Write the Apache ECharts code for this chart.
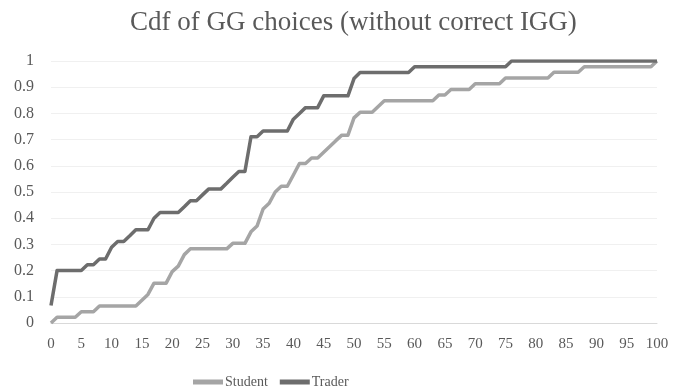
<!DOCTYPE html>
<html>
<head>
<meta charset="utf-8">
<script src="https://cdn.jsdelivr.net/npm/echarts@6/dist/echarts.min.js"></script>
<style>
  html, body { margin: 0; padding: 0; background: #ffffff; }
  #chart { width: 673px; height: 391px; }
</style>
</head>
<body>
<div id="chart"></div>
<script>
// Guess values 0..100 on the horizontal axis
const guesses = Array.from({ length: 101 }, (_, i) => String(i));

// Cumulative share of choices at or below each guess
const student = [
  0,
  0.022, 0.022, 0.022, 0.022,
  0.043, 0.043, 0.043,
  0.065, 0.065, 0.065, 0.065, 0.065, 0.065, 0.065,
  0.087, 0.109,
  0.152, 0.152, 0.152,
  0.196, 0.217, 0.261,
  0.283, 0.283, 0.283, 0.283, 0.283, 0.283, 0.283,
  0.304, 0.304, 0.304,
  0.348, 0.370, 0.435, 0.457, 0.500,
  0.522, 0.522,
  0.565,
  0.609, 0.609,
  0.630, 0.630,
  0.652, 0.674, 0.696,
  0.717, 0.717,
  0.783,
  0.804, 0.804, 0.804,
  0.826,
  0.848, 0.848, 0.848, 0.848, 0.848, 0.848, 0.848, 0.848, 0.848,
  0.870, 0.870,
  0.891, 0.891, 0.891, 0.891,
  0.913, 0.913, 0.913, 0.913, 0.913,
  0.935, 0.935, 0.935, 0.935, 0.935, 0.935, 0.935, 0.935,
  0.957, 0.957, 0.957, 0.957, 0.957,
  0.978, 0.978, 0.978, 0.978, 0.978, 0.978, 0.978, 0.978, 0.978, 0.978, 0.978, 0.978,
  1
];

const trader = [
  0.067,
  0.2, 0.2, 0.2, 0.2, 0.2,
  0.222, 0.222,
  0.244, 0.244,
  0.289,
  0.311, 0.311,
  0.333,
  0.356, 0.356, 0.356,
  0.4,
  0.422, 0.422, 0.422, 0.422,
  0.444,
  0.467, 0.467,
  0.489,
  0.511, 0.511, 0.511,
  0.533, 0.556,
  0.578, 0.578,
  0.711, 0.711,
  0.733, 0.733, 0.733, 0.733, 0.733,
  0.778, 0.8,
  0.822, 0.822, 0.822,
  0.867, 0.867, 0.867, 0.867, 0.867,
  0.933,
  0.956, 0.956, 0.956, 0.956, 0.956, 0.956, 0.956, 0.956, 0.956,
  0.978, 0.978, 0.978, 0.978, 0.978, 0.978, 0.978, 0.978,
  0.978, 0.978, 0.978, 0.978, 0.978, 0.978, 0.978, 0.978,
  1, 1, 1, 1, 1, 1, 1, 1, 1, 1, 1, 1, 1, 1, 1, 1, 1, 1, 1, 1, 1, 1, 1, 1, 1
];

const seriesNames = ['Student', 'Trader'];
const titleText = 'Cdf of GG choices (without correct IGG)';

const FONT = '"Liberation Serif", "Times New Roman", serif';
const TEXT = '#595959';

const chart = echarts.init(document.getElementById('chart'), null, { renderer: 'canvas' });

chart.setOption({
  animation: false,
  backgroundColor: '#ffffff',
  title: {
    text: titleText,
    left: 125,
    top: 4,
    textStyle: { fontFamily: FONT, fontSize: 27, fontWeight: 'normal', color: TEXT }
  },
  legend: {
    data: seriesNames,
    top: 370,
    left: 188,
    icon: 'rect',
    itemWidth: 30,
    itemHeight: 5,
    itemGap: 12,
    textStyle: { fontFamily: FONT, fontSize: 14, color: TEXT, padding: [0, 0, 0, -3] }
  },
  grid: { left: 51, right: 16, top: 61, bottom: 68, containLabel: false },
  xAxis: {
    type: 'category',
    data: guesses,
    boundaryGap: false,
    axisLine: { lineStyle: { color: '#d9d9d9', width: 1 } },
    axisTick: { show: false },
    axisLabel: {
      interval: 4,
      margin: 14,
      fontFamily: FONT,
      fontSize: 15,
      color: TEXT
    },
    splitLine: { show: false }
  },
  yAxis: {
    type: 'value',
    min: 0,
    max: 1,
    interval: 0.1,
    axisLine: { show: false },
    axisTick: { show: false },
    axisLabel: {
      margin: 17,
      fontFamily: FONT,
      fontSize: 16,
      color: TEXT,
      formatter: v => String(Math.round(v * 10) / 10)
    },
    splitLine: { lineStyle: { color: '#f0f0f0', width: 1 } }
  },
  series: [
    {
      name: seriesNames[0],
      type: 'line',
      data: student,
      symbol: 'none',
      lineStyle: { color: '#a5a5a5', width: 3.5, join: 'round' },
      itemStyle: { color: '#a5a5a5' }
    },
    {
      name: seriesNames[1],
      type: 'line',
      data: trader,
      symbol: 'none',
      lineStyle: { color: '#6d6d6d', width: 3.5, join: 'round' },
      itemStyle: { color: '#6d6d6d' }
    }
  ]
});
</script>
</body>
</html>
